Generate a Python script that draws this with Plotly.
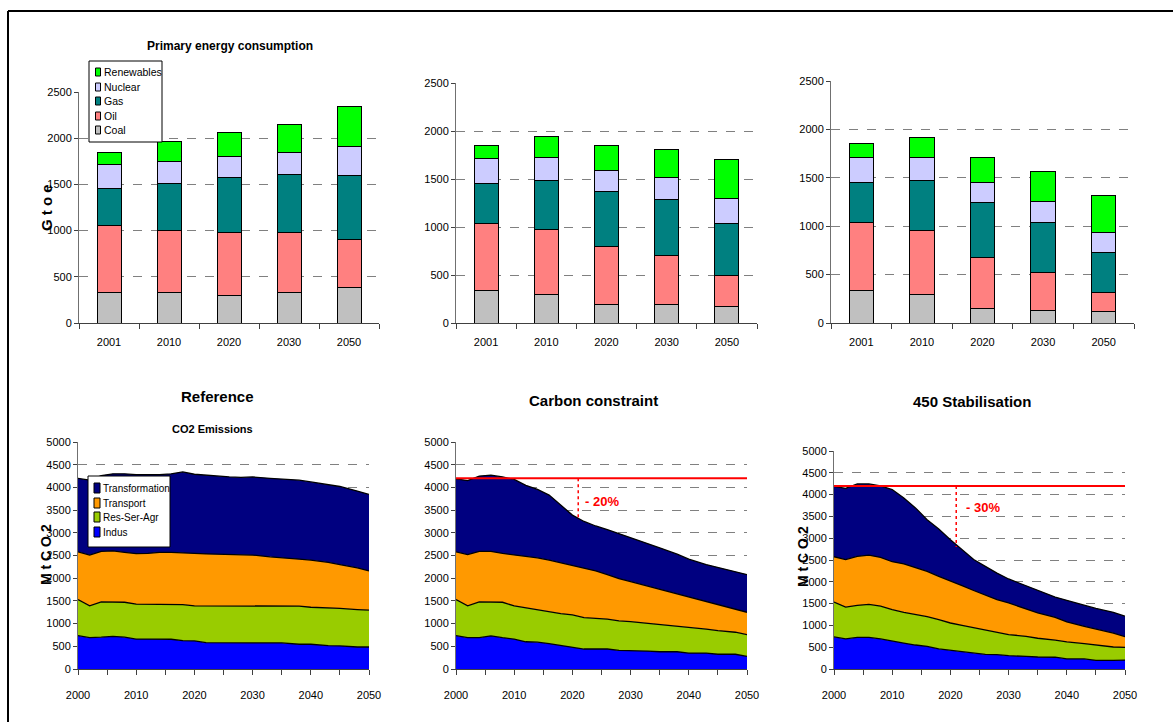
import plotly.graph_objects as go

W, H = 1173, 722
FONT = "Liberation Sans, Arial"

# ---------------- data: primary energy consumption (Gtoe) ----------------
bar_years = ["2001", "2010", "2020", "2030", "2050"]
sources = ["Coal", "Oil", "Gas", "Nuclear", "Renewables"]
source_colors = ["#C0C0C0", "#FF8080", "#008080", "#CCCCFF", "#00FF00"]

ref_coal = [335, 335, 302, 335, 385]
ref_oil = [715, 669, 673, 640, 521]
ref_gas = [410, 507, 604, 633, 688]
ref_nuclear = [256, 241, 220, 237, 316]
ref_renew = [129, 208, 259, 302, 432]

cc_coal = [337, 299, 194, 194, 177]
cc_oil = [701, 677, 598, 504, 320]
cc_gas = [413, 507, 583, 587, 538]
cc_nuclear = [261, 243, 215, 229, 264]
cc_renew = [139, 215, 261, 292, 399]

st_coal = [331, 297, 145, 131, 114]
st_oil = [710, 655, 534, 393, 203]
st_gas = [411, 517, 562, 517, 407]
st_nuclear = [258, 245, 211, 214, 207]
st_renew = [142, 200, 262, 314, 386]

# ---------------- data: CO2 emissions (MtCO2) ----------------
em_years = [2000, 2002, 2004, 2006, 2008, 2010, 2012, 2014, 2016, 2018, 2020, 2022,
            2024, 2026, 2028, 2030, 2033, 2035, 2038, 2040, 2043, 2045, 2048, 2050]
sectors = ["Indus", "Res-Ser-Agr", "Transport", "Transformation"]
sector_colors = ["#0000FF", "#99CC00", "#FF9900", "#000080"]

ref_indus = [735, 690, 700, 720, 700, 660, 660, 660, 655, 625, 620, 580,
             575, 575, 575, 575, 575, 575, 545, 545, 515, 510, 485, 485]
ref_rsa = [795, 700, 780, 760, 770, 770, 765, 760, 765, 795, 770, 810,
           815, 815, 815, 815, 815, 815, 840, 815, 835, 825, 825, 810]
ref_transport = [1050, 1120, 1110, 1120, 1100, 1110, 1120, 1150, 1150, 1145, 1155, 1145,
                 1140, 1130, 1120, 1120, 1080, 1065, 1035, 1040, 1000, 965, 920, 865]
ref_transfo = [1620, 1650, 1670, 1700, 1730, 1740, 1735, 1710, 1730, 1775, 1745, 1730,
               1710, 1710, 1710, 1720, 1730, 1735, 1740, 1720, 1710, 1720, 1690, 1685]

cc_indus = [735, 690, 690, 730, 690, 660, 600, 590, 560, 515, 485, 440,
            440, 440, 410, 410, 395, 380, 380, 350, 350, 325, 325, 280]
cc_rsa = [795, 700, 790, 750, 780, 730, 745, 720, 710, 705, 705, 690,
          675, 660, 650, 635, 610, 600, 570, 560, 530, 520, 485, 475]
cc_transport = [1050, 1130, 1110, 1110, 1075, 1125, 1125, 1140, 1130, 1120, 1100, 1100,
                1045, 980, 930, 880, 820, 780, 715, 690, 615, 580, 510, 495]
cc_transfo = [1610, 1630, 1660, 1680, 1685, 1660, 1575, 1505, 1430, 1270, 1100, 1020,
              990, 990, 995, 970, 940, 910, 865, 820, 805, 810, 825, 830]

st_indus = [735, 690, 725, 725, 690, 635, 595, 550, 520, 460, 430, 390,
            360, 335, 330, 305, 290, 275, 270, 230, 230, 200, 200, 205]
st_rsa = [800, 730, 735, 755, 750, 725, 705, 700, 680, 670, 625, 610,
          585, 560, 520, 485, 460, 430, 390, 390, 350, 350, 305, 290]
st_transport = [1040, 1090, 1125, 1130, 1120, 1100, 1110, 1080, 1040, 995, 955, 910,
                855, 805, 740, 725, 625, 580, 525, 460, 400, 375, 320, 245]
st_transfo = [1615, 1635, 1660, 1635, 1640, 1655, 1510, 1365, 1185, 1085, 955, 825,
              710, 655, 610, 550, 535, 515, 465, 495, 480, 465, 475, 470]

# constraint markers
base_level = 4200
target_year = 2021
cc_target = 3280
st_target = 2800
cc_label = "- 20%"
st_label = "- 30%"

# ---------------- helpers ----------------
def px(x):
    return x / W


def py(y):
    return 1 - y / H


fig = go.Figure()

bar_sets = [
    ("x", "y", [ref_coal, ref_oil, ref_gas, ref_nuclear, ref_renew]),
    ("x2", "y2", [cc_coal, cc_oil, cc_gas, cc_nuclear, cc_renew]),
    ("x3", "y3", [st_coal, st_oil, st_gas, st_nuclear, st_renew]),
]
for xa, ya, series in bar_sets:
    for name, col, vals in zip(sources, source_colors, series):
        fig.add_trace(go.Bar(x=bar_years, y=vals, name=name, xaxis=xa, yaxis=ya,
                             marker=dict(color=col, line=dict(color="black", width=1)),
                             showlegend=False))

area_sets = [
    ("x4", "y4", "s4", [ref_indus, ref_rsa, ref_transport, ref_transfo]),
    ("x5", "y5", "s5", [cc_indus, cc_rsa, cc_transport, cc_transfo]),
    ("x6", "y6", "s6", [st_indus, st_rsa, st_transport, st_transfo]),
]
for xa, ya, sg, series in area_sets:
    for name, col, vals in zip(sectors, sector_colors, series):
        fig.add_trace(go.Scatter(x=em_years, y=vals, name=name, xaxis=xa, yaxis=ya,
                                 stackgroup=sg, mode="lines", fillcolor=col,
                                 line=dict(color="black", width=1.3),
                                 showlegend=False))

# red reference line and dotted reduction marker
for xa, ya, tgt in [("x5", "y5", cc_target), ("x6", "y6", st_target)]:
    fig.add_trace(go.Scatter(x=[2000, 2050], y=[base_level, base_level], xaxis=xa, yaxis=ya,
                             mode="lines", line=dict(color="#FF0000", width=2),
                             showlegend=False, hoverinfo="skip"))
    fig.add_trace(go.Scatter(x=[target_year, target_year], y=[base_level, tgt], xaxis=xa, yaxis=ya,
                             mode="lines", line=dict(color="#FF0000", width=1.5, dash="dot"),
                             showlegend=False, hoverinfo="skip"))

tickfont = dict(family=FONT, size=11, color="black")
grid = dict(showgrid=True, gridcolor="#808080", griddash="dash", gridwidth=1)

domains = {
    "": ((79, 379), (92, 323)),
    "2": ((456, 757), (83, 323)),
    "3": ((831, 1134), (81, 323)),
    "4": ((78, 369), (442, 669)),
    "5": ((456, 747), (442, 669)),
    "6": ((834, 1125), (451, 669)),
}
layout_axes = {}
for k, ((x0, x1), (y0, y1)) in domains.items():
    xd = [px(x0), px(x1)]
    yd = [py(y1), py(y0)]
    anchor_x = "y" + k
    anchor_y = "x" + k
    if k in ("", "2", "3"):
        layout_axes["xaxis" + k] = dict(domain=xd, anchor=anchor_x, type="category",
                                        tickson="boundaries", ticks="outside", ticklen=5,
                                        tickcolor="#404040", showline=True, linecolor="#404040",
                                        showgrid=False, tickfont=tickfont, ticklabelstandoff=9,
                                        range=[-0.5, 4.5], automargin=False)
        layout_axes["yaxis" + k] = dict(domain=yd, anchor=anchor_y, range=[0, 2500], dtick=500,
                                        ticks="outside", ticklen=4, tickcolor="#404040",
                                        showline=True, linecolor="#707070", zeroline=False,
                                        tickfont=tickfont, automargin=False, **grid)
    else:
        layout_axes["xaxis" + k] = dict(domain=xd, anchor=anchor_x, range=[2000, 2050],
                                        tickvals=[2000, 2010, 2020, 2030, 2040, 2050],
                                        ticks="outside", ticklen=5, tickcolor="#404040",
                                        minor=dict(dtick=5, ticks="outside", ticklen=5,
                                                   tickcolor="#404040", showgrid=False),
                                        showline=True, linecolor="#404040", showgrid=False,
                                        zeroline=False, tickfont=tickfont, ticklabelstandoff=11,
                                        automargin=False)
        layout_axes["yaxis" + k] = dict(domain=yd, anchor=anchor_y, range=[0, 5000], dtick=500,
                                        ticks="outside", ticklen=4, tickcolor="#404040",
                                        showline=True, linecolor="#707070", zeroline=False,
                                        tickfont=tickfont, automargin=False, **grid)

annotations = []
shapes = []


def text(x, y, s, size, bold=True, color="black", angle=0, xanchor="center"):
    annotations.append(dict(x=px(x), y=py(y), xref="paper", yref="paper",
                            text=("<b>%s</b>" % s) if bold else s,
                            showarrow=False, xanchor=xanchor, yanchor="middle", textangle=angle,
                            font=dict(family=FONT, size=size, color=color)))


text(230, 46, "Primary energy consumption", 12)
text(217, 396, "Reference", 15)
text(212, 429, "CO2 Emissions", 11)
text(593, 400, "Carbon constraint", 15)
text(972, 401, "450 Stabilisation", 15)
text(46, 208, "G t o e", 15, angle=-90)
text(46, 555, "M t C O 2", 14, angle=-90)
text(803, 557, "M t C O 2", 14, angle=-90)

# reduction labels in data coordinates
annotations.append(dict(x=2025.1, y=3700, xref="x5", yref="y5", text="<b>%s</b>" % cc_label,
                        showarrow=False, font=dict(family=FONT, size=13, color="#FF0000")))
annotations.append(dict(x=2025.6, y=3700, xref="x6", yref="y6", text="<b>%s</b>" % st_label,
                        showarrow=False, font=dict(family=FONT, size=13, color="#FF0000")))


# legend boxes (drawn with the series names and colours)
def legend_box(x0, y0, x1, y1, names, colors, centers, sw_w, sw_h, sw_x, tx, fs):
    shapes.append(dict(type="rect", xref="paper", yref="paper", x0=px(x0), x1=px(x1),
                       y0=py(y1), y1=py(y0),
                       line=dict(color="black", width=1), fillcolor="white", layer="above"))
    for n, c, yc in zip(names, colors, centers):
        shapes.append(dict(type="rect", xref="paper", yref="paper", x0=px(sw_x), x1=px(sw_x + sw_w),
                           y0=py(yc + sw_h / 2), y1=py(yc - sw_h / 2),
                           line=dict(color="black", width=1), fillcolor=c, layer="above"))
        text(tx, yc, n, fs, bold=False, xanchor="left")


legend_box(89, 61, 162, 142, sources[::-1], source_colors[::-1], [72, 87, 101, 116, 130],
           5, 8, 95.5, 102, 10.5)
legend_box(88, 476, 170, 547, sectors[::-1], sector_colors[::-1], [488, 503, 517, 532],
           6, 10, 94, 101, 10)

# outer frame
shapes.append(dict(type="line", xref="paper", yref="paper", x0=px(8), x1=px(1190), y0=py(11), y1=py(11),
                   line=dict(color="black", width=2)))
shapes.append(dict(type="line", xref="paper", yref="paper", x0=px(8), x1=px(8), y0=py(11), y1=py(740),
                   line=dict(color="black", width=2)))

fig.update_layout(width=W, height=H, margin=dict(l=0, r=0, t=0, b=0, pad=0, autoexpand=False),
                  paper_bgcolor="white", plot_bgcolor="white", barmode="stack", bargap=0.6,
                  showlegend=False, annotations=annotations, shapes=shapes,
                  font=dict(family=FONT, size=11, color="black"), **layout_axes)

fig.write_html("out.html")
